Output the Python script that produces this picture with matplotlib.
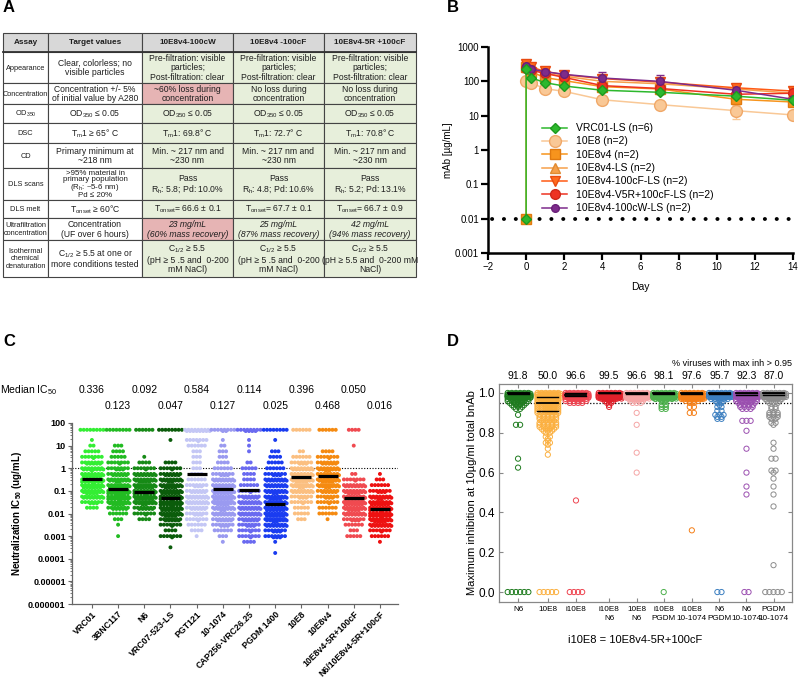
import numpy as np
import matplotlib
matplotlib.use('Agg')
import matplotlib.pyplot as plt
from matplotlib.patches import Rectangle
from matplotlib.ticker import NullLocator, LogLocator, NullFormatter
from matplotlib.transforms import blended_transform_factory

plt.rcParams['font.family'] = ['Liberation Sans', 'DejaVu Sans']
plt.rcParams['mathtext.fontset'] = 'custom'
plt.rcParams['mathtext.rm'] = 'Liberation Sans'
plt.rcParams['mathtext.it'] = 'Liberation Sans:italic'
plt.rcParams['mathtext.bf'] = 'Liberation Sans:bold'
plt.rcParams['mathtext.default'] = 'regular'

# ---------------- DATA ----------------
# Panel A table
table_header = ['Assay', 'Target values', '10E8v4-100cW', '10E8v4 -100cF', '10E8v4-5R +100cF']
prefilt = 'Pre-filtration: visible\nparticles;\nPost-filtration: clear'
noloss = 'No loss during\nconcentration'
od = 'OD$_{350}$ ≤ 0.05'
cdmin = 'Min. ~ 217 nm and\n~230 nm'
table_rows = [
    ['Appearance', 'Clear, colorless; no\nvisible particles', prefilt, prefilt, prefilt],
    ['Concentration', 'Concentration +/- 5%\nof initial value by A280', '~60% loss during\nconcentration', noloss, noloss],
    ['OD$_{350}$', 'OD$_{350}$ ≤ 0.05', od, od, od],
    ['DSC', 'T$_m$1 ≥ 65° C', 'T$_m$1: 69.8° C', 'T$_m$1: 72.7° C', 'T$_m$1: 70.8° C'],
    ['CD', 'Primary minimum at\n~218 nm', cdmin, cdmin, cdmin],
    ['DLS scans', '>95% material in\nprimary population\n(R$_h$: ~5-6 nm)\nPd ≤ 20%',
     'Pass\nR$_h$: 5.8; Pd: 10.0%', 'Pass\nR$_h$: 4.8; Pd: 10.6%', 'Pass\nR$_h$: 5.2; Pd: 13.1%'],
    ['DLS melt', 'T$_{onset}$ ≥ 60°C', 'T$_{onset}$= 66.6 ± 0.1', 'T$_{onset}$= 67.7 ± 0.1', 'T$_{onset}$= 66.7 ± 0.9'],
    ['Ultrafiltration\nconcentration', 'Concentration\n(UF over 6 hours)', '23 mg/mL\n(60% mass recovery)',
     '25 mg/mL\n(87% mass recovery)', '42 mg/mL\n(94% mass recovery)'],
    ['Isothermal\nchemical\ndenaturation', 'C$_{1/2}$ ≥ 5.5 at one or\nmore conditions tested',
     'C$_{1/2}$ ≥ 5.5\n(pH ≥ 5 .5 and  0-200\nmM NaCl)', 'C$_{1/2}$ ≥ 5.5\n(pH ≥ 5 .5 and  0-200\nmM NaCl)',
     'C$_{1/2}$ ≥ 5.5\n(pH ≥ 5.5 and  0-200 mM\nNaCl)'],
]
red_cells = [(1, 2), (7, 2)]
italic_row = 7

# Panel B
pk_names = ['VRC01-LS (n=6)', '10E8 (n=2)', '10E8v4 (n=2)', '10E8v4-LS (n=2)', '10E8v4-100cF-LS (n=2)',
            '10E8v4-V5R+100cF-LS (n=2)', '10E8v4-100cW-LS (n=2)']
pk_days = [0, 0.25, 1, 2, 4, 7, 11, 14]
pk_vrc01 = [230, 128, 91, 73, 55, 48, 37, 28]
pk_10e8 = [100, 90, 61, 51, 29, 21, 14, 10.5]
pk_10e8v4 = [260, 190, 128, 105, 70, 60, 30, 25]
pk_v4ls = [300, 230, 170, 140, 100, 85, 60, 45]
pk_100cf = [330, 260, 195, 155, 120, 95, 65, 52]
pk_v5r = [250, 210, 170, 130, 75, 62, 42, 45]
pk_100cw = [280, 230, 190, 160, 125, 100, 55, 30]
pk_err_vrc01 = [40, 15, 10, 8, 6, 5, 5, 4]
pk_err_10e8 = [10, 8, 6, 5, 4, 3, 6, 2]
pk_err_10e8v4 = [60, 40, 20, 15, 10, 8, 6, 4]
pk_err_v4ls = [70, 50, 30, 20, 20, 15, 10, 8]
pk_err_100cf = [60, 50, 30, 25, 25, 20, 12, 8]
pk_err_v5r = [50, 40, 30, 25, 15, 10, 8, 8]
pk_err_100cw = [60, 40, 30, 40, 65, 55, 12, 6]
pk_baseline_day = 0
pk_baseline = 0.01

# Panel C
c_names = ['VRC01', '3BNC117', 'N6', 'VRC07-523-LS', 'PGT121', '10-1074', 'CAP256-VRC26.25',
           'PGDM 1400', '10E8', '10E8v4', '10E8v4-5R+100cF', 'N6/10E8v4-5R+100cF']
c_medians = [0.336, 0.123, 0.092, 0.047, 0.584, 0.127, 0.114, 0.025, 0.396, 0.468, 0.050, 0.016]
c_levels = [50, 17.8, 10, 5.6, 3.2, 1.8, 1.0, 0.56, 0.32, 0.18, 0.1, 0.056, 0.032, 0.018,
            0.01, 0.0056, 0.0032, 0.0018, 0.001, 0.00056, 0.00032, 0.00018]
c_counts = [
    [8, 1, 2, 5, 8, 12, 15, 20, 22, 20, 18, 14, 10, 4, 0, 0, 0, 0, 0, 0, 0, 0],
    [8, 0, 3, 4, 5, 8, 10, 12, 16, 20, 24, 22, 18, 12, 6, 3, 1, 0, 1, 0, 0, 0],
    [6, 0, 0, 0, 1, 4, 8, 14, 18, 20, 22, 20, 16, 12, 8, 4, 0, 0, 0, 0, 0, 0],
    [8, 1, 0, 0, 0, 4, 8, 12, 16, 18, 20, 22, 22, 20, 18, 12, 8, 4, 8, 0, 1, 0],
    [16, 8, 6, 3, 3, 3, 3, 4, 6, 10, 12, 14, 14, 12, 10, 8, 6, 4, 1, 0, 0, 0],
    [10, 1, 2, 3, 3, 4, 6, 10, 14, 18, 20, 20, 18, 16, 14, 12, 10, 6, 3, 1, 0, 0],
    [12, 1, 1, 1, 0, 2, 5, 4, 4, 6, 8, 12, 14, 14, 14, 12, 10, 8, 8, 4, 0, 0],
    [8, 1, 0, 3, 4, 5, 6, 10, 14, 14, 16, 18, 20, 20, 20, 16, 14, 10, 10, 1, 0, 1],
    [6, 0, 0, 2, 6, 10, 14, 16, 18, 16, 14, 10, 8, 5, 5, 3, 0, 0, 0, 0, 0, 0],
    [6, 0, 0, 4, 8, 12, 16, 18, 18, 16, 12, 10, 8, 6, 6, 1, 0, 0, 0, 0, 0, 0],
    [4, 0, 1, 0, 0, 0, 0, 2, 8, 14, 18, 20, 20, 18, 14, 10, 6, 3, 5, 0, 0, 0],
    [0, 0, 0, 0, 0, 0, 0, 1, 3, 6, 10, 16, 20, 22, 22, 18, 14, 8, 6, 1, 0, 0],
]
c_colors = ['#33ee33', '#22bb22', '#168a16', '#0b5c0b', '#c4c7f5', '#9a9af0', '#6a6af0',
            '#1a3cf0', '#fbbf80', '#f58a10', '#f04a50', '#ee1111']
c_ticks = [100, 10, 1, 0.1, 0.01, 0.001, 0.0001, 0.00001, 0.000001]
c_ticklabels = ['100', '10', '1', '0.1', '0.01', '0.001', '0.0001', '0.00001', '0.000001']

# Panel D
d_names = ['N6', '10E8', 'i10E8', 'i10E8\nN6', '10E8\nN6', 'i10E8\nPGDM', 'i10E8\n10-1074',
           'N6\nPGDM', 'N6\n10-1074', 'PGDM\n10-1074']
d_pct = [91.8, 50.0, 96.6, 99.5, 96.6, 98.1, 97.6, 95.7, 92.3, 87.0]
d_levels = [1.0, 0.99, 0.98, 0.97, 0.96, 0.95, 0.94, 0.93, 0.92, 0.91, 0.90,
            0.89, 0.88, 0.87, 0.86, 0.85, 0.84, 0.83, 0.82, 0.81, 0.80]
d_counts = [
    [40, 20, 12, 8, 6, 5, 4, 3, 2, 0, 0, 1, 0, 0, 0, 0, 2, 0, 0, 0, 0],
    [20, 12, 12, 10, 10, 10, 8, 8, 8, 8, 6, 5, 5, 5, 4, 5, 5, 5, 4, 3, 2],
    [40, 20, 15, 8, 6, 4, 0, 0, 0, 0, 0, 0, 0, 0, 0, 0, 0, 0, 0, 0, 0],
    [50, 15, 6, 4, 3, 2, 1, 1, 0, 0, 0, 0, 0, 0, 0, 0, 0, 0, 0, 0, 0],
    [50, 10, 6, 4, 4, 3, 0, 0, 0, 0, 1, 0, 0, 0, 0, 0, 1, 0, 0, 0, 0],
    [50, 12, 10, 5, 2, 0, 2, 2, 2, 0, 0, 0, 0, 0, 0, 0, 0, 0, 0, 0, 0],
    [50, 15, 10, 6, 4, 2, 0, 2, 0, 0, 2, 0, 0, 0, 0, 0, 0, 0, 0, 0, 0],
    [40, 12, 8, 5, 3, 2, 1, 2, 0, 2, 0, 3, 2, 2, 0, 0, 0, 0, 0, 0, 0],
    [40, 12, 10, 8, 6, 5, 4, 4, 3, 0, 0, 0, 0, 0, 3, 0, 0, 0, 0, 0, 0],
    [40, 10, 8, 5, 4, 3, 0, 2, 2, 0, 3, 3, 3, 2, 0, 2, 1, 0, 0, 0, 0],
]
d_outliers = [
    [0.67, 0.625],
    [0.78, 0.78, 0.77, 0.76, 0.75, 0.75, 0.74, 0.72, 0.69],
    [0.46],
    [],
    [0.70, 0.60],
    [],
    [0.31],
    [],
    [0.81, 0.72, 0.60, 0.53, 0.49],
    [0.75, 0.72, 0.67, 0.67, 0.61, 0.61, 0.60, 0.57, 0.53, 0.49, 0.43, 0.135],
]
d_zeros = [6, 5, 4, 0, 0, 1, 0, 2, 2, 5]
d_median = [1.0, 0.95, 0.99, 1.0, 1.0, 1.0, 1.0, 1.0, 1.0, 1.0]
d_q1 = [0.995, 0.91, 0.985, 1.0, 0.995, 0.995, 0.995, 0.995, 0.99, 0.99]
d_q3 = [1.0, 0.98, 1.0, 1.0, 1.0, 1.0, 1.0, 1.0, 1.0, 1.0]
d_colors = ['#1e7b1e', '#fbb040', '#ee4450', '#e0202a', '#f5a5a5', '#4cb04c', '#f57f17',
            '#3c7fc0', '#9b4fb0', '#8c8c8c']

# ---------------- FIGURE ----------------
W, H = 800, 679
fig = plt.figure(figsize=(8, 6.79), dpi=100)


def rect(l, t, r, b):
    return [l / W, 1 - b / H, (r - l) / W, (b - t) / H]


def fig_y(y):
    return 1 - y / H


def fig_x(x):
    return x / W


# Panel labels
for lab, x, y in [('A', 3, 8), ('B', 447, 8), ('C', 3, 342), ('D', 447, 342)]:
    fig.text(fig_x(x), fig_y(y), lab, fontsize=12, fontweight='bold', ha='left', va='center')

# ---------- Panel A : table ----------
axA = fig.add_axes(rect(0, 0, 420, 300))
axA.set_xlim(0, 420)
axA.set_ylim(300, 0)
axA.axis('off')
col_edges = [3, 48, 142, 233, 324, 416]
row_edges = [33, 52, 83, 104, 123, 143, 168, 200, 218, 240, 277]
all_rows = [table_header] + table_rows
for ri, row in enumerate(all_rows):
    for ci, txt in enumerate(row):
        x0, x1 = col_edges[ci], col_edges[ci + 1]
        y0, y1 = row_edges[ri], row_edges[ri + 1]
        if ri == 0:
            fc = '#d8d8d8'
        elif ci < 2:
            fc = 'white'
        elif (ri - 1, ci) in red_cells:
            fc = '#e6b4b4'
        else:
            fc = '#e7efdb'
        axA.add_patch(Rectangle((x0, y0), x1 - x0, y1 - y0, facecolor=fc, edgecolor='#444444', lw=0.8))
        style = 'italic' if (ri - 1 == italic_row and ci >= 2) else 'normal'
        weight = 'bold' if ri == 0 else 'normal'
        nl = txt.count('\n') + 1
        if ri == 0:
            fs = 5.9
        elif ci == 0:
            fs = 5.3
        elif nl >= 4:
            fs = 5.7
        else:
            fs = 6.2
        ls = 0.82 if nl >= 4 else 1.06
        axA.text((x0 + x1) / 2, (y0 + y1) / 2 + 0.5, txt, ha='center', va='center',
                 fontsize=fs, fontstyle=style, fontweight=weight, linespacing=ls, color='#1e1e1e')
axA.plot([3, 416], [52, 52], color='#333333', lw=1.3)

# ---------- Panel B : PK ----------
axB = fig.add_axes(rect(488, 47, 793, 253))
axB.set_yscale('log')
axB.set_ylim(0.001, 1000)
axB.set_xlim(-2, 14)
pk_vals = [pk_vrc01, pk_10e8, pk_10e8v4, pk_v4ls, pk_100cf, pk_v5r, pk_100cw]
pk_errs = [pk_err_vrc01, pk_err_10e8, pk_err_10e8v4, pk_err_v4ls, pk_err_100cf, pk_err_v5r, pk_err_100cw]
pk_style = [
    dict(color='#2db82d', marker='D', ms=5, mfc='#2db82d', mec='#1e9a1e'),
    dict(color='#f9c896', marker='o', ms=8.5, mfc='#f9c896', mec='#f0a868'),
    dict(color='#f7941d', marker='s', ms=7, mfc='#f7941d', mec='#e07a10'),
    dict(color='#f6a04a', marker='^', ms=7, mfc='#f6a04a', mec='#e08a30'),
    dict(color='#ff5a14', marker='v', ms=7, mfc='#ff6a1e', mec='#e84a10'),
    dict(color='#ee3322', marker='o', ms=7, mfc='#ee3322', mec='#d02818'),
    dict(color='#7d2b8b', marker='o', ms=5.5, mfc='#7d2b8b', mec='#6a1f78'),
]
axB.plot([-1.8, 14], [pk_baseline, pk_baseline], color='black', lw=2.8,
         linestyle=(0, (0.05, 3.0)), dash_capstyle='round', zorder=1)
order = [1, 2, 3, 4, 5, 6, 0]
handles = [None] * 7
for i in order:
    st = pk_style[i]
    v = pk_vals[i]
    e = pk_errs[i]
    lo = [min(ee, vv * 0.5) for ee, vv in zip(e, v)]
    axB.errorbar(pk_days, v, yerr=[lo, e], fmt='none', ecolor=st['color'], elinewidth=1,
                 capsize=3, capthick=1, zorder=2 + i * 0.1)
    if i in (0, 2):
        xs = [pk_baseline_day] + pk_days
        ys = [pk_baseline] + v
    else:
        xs, ys = pk_days, v
    ln, = axB.plot(xs, ys, lw=1.1, label=pk_names[i], zorder=3 + i * 0.1 + (2 if i == 0 else 0), **st)
    handles[i] = ln
axB.legend(handles=handles, loc='upper left', bbox_to_anchor=(fig_x(538), fig_y(119)),
           bbox_transform=fig.transFigure, frameon=False, fontsize=7.5, handlelength=2.4,
           handletextpad=0.8, labelspacing=0.32, borderaxespad=0)
for s in ['top', 'right']:
    axB.spines[s].set_visible(False)
for s in ['left', 'bottom']:
    axB.spines[s].set_linewidth(1.8)
axB.set_xticks(np.arange(-2, 15, 2))
axB.set_yticks([0.001, 0.01, 0.1, 1, 10, 100, 1000])
axB.set_yticklabels(['0.001', '0.01', '0.1', '1', '10', '100', '1000'])
axB.yaxis.set_minor_locator(NullLocator())
axB.tick_params(axis='both', direction='out', length=5, width=1.6, labelsize=7, pad=1.5)
axB.set_xlabel('Day', fontsize=7.5, labelpad=7)
axB.set_ylabel('mAb [µg/mL]', fontsize=7, labelpad=1)

# ---------- Panel C : IC50 scatter ----------
axC = fig.add_axes(rect(72, 423, 398, 604))
axC.set_yscale('log')
axC.set_ylim(1e-6, 100)
axC.set_xlim(-0.76, 11.69)
step_c = 0.125
for ci in range(len(c_names)):
    xs, ys = [], []
    for lv, n in zip(c_levels, c_counts[ci]):
        r = 0
        rem = n
        maxrow = 8 if lv >= 50 else 7
        while rem > 0:
            k = min(maxrow, rem)
            offs = (np.arange(k) - (k - 1) / 2) * step_c + (r % 2) * step_c / 2
            xs.extend(ci + offs)
            ys.extend([lv * 10 ** (-0.055 * r)] * k)
            rem -= k
            r += 1
    axC.scatter(xs, ys, s=8, color=c_colors[ci], edgecolors='none', zorder=2, clip_on=False)
    axC.plot([ci - 0.38, ci + 0.38], [c_medians[ci]] * 2, color='black', lw=2.3, zorder=3,
             solid_capstyle='butt')
axC.axhline(1, color='black', lw=0.8, linestyle=(0, (1, 1.5)), zorder=1)
for s in ['top', 'right']:
    axC.spines[s].set_visible(False)
for s in ['left', 'bottom']:
    axC.spines[s].set_color('#666666')
    axC.spines[s].set_linewidth(0.9)
axC.set_yticks(c_ticks)
axC.set_yticklabels(c_ticklabels, fontweight='bold')
axC.yaxis.set_minor_locator(LogLocator(base=10, subs=np.arange(2, 10) * 1.0, numticks=20))
axC.yaxis.set_minor_formatter(NullFormatter())
axC.tick_params(axis='y', which='major', labelsize=6.5, length=3, color='#666666', pad=1.5)
axC.tick_params(axis='y', which='minor', length=1.5, color='#666666')
axC.set_xticks(range(len(c_names)))
axC.set_xticklabels(c_names, rotation=45, ha='right', rotation_mode='anchor', fontsize=6.3,
                    fontweight='bold')
axC.tick_params(axis='x', length=3, color='#666666', pad=1)
axC.set_ylabel('Neutralization IC$_{50}$ (ug/mL)', fontsize=7, fontweight='bold', labelpad=3)
trC = blended_transform_factory(axC.transData, fig.transFigure)
fig.text(fig_x(0), fig_y(390), 'Median IC$_{50}$', fontsize=7.5, ha='left', va='center')
for ci, m in enumerate(c_medians):
    y = 390 if ci % 2 == 0 else 406
    axC.text(ci, fig_y(y), f'{m:.3f}', transform=trC, fontsize=7.5, ha='center', va='center')

# ---------- Panel D : max inhibition ----------
axD = fig.add_axes(rect(499, 384, 792, 602))
axD.set_ylim(-0.05, 1.045)
d_pos = [0, 1.08, 2.1, 3.3, 4.3, 5.28, 6.3, 7.3, 8.28, 9.26]
axD.set_xlim(-0.69, 9.93)
step_d = 0.15
trD = blended_transform_factory(axD.transData, fig.transFigure)
for di in range(len(d_names)):
    vals = []
    for lv, n in zip(d_levels, d_counts[di]):
        vals.extend([lv] * n)
    vals.extend(d_outliers[di])
    vals.extend([0.0] * d_zeros[di])
    uv, cnt = np.unique(np.round(vals, 4), return_counts=True)
    xs, ys = [], []
    for v, n in zip(uv, cnt):
        r = 0
        rem = n
        while rem > 0:
            k = min(6, rem)
            offs = (np.arange(k) - (k - 1) / 2) * step_d + (r % 2) * step_d / 2
            xs.extend(d_pos[di] + offs)
            ys.extend([v - 0.004 * r] * k)
            rem -= k
            r += 1
    axD.scatter(xs, ys, s=14, facecolors='none', edgecolors=d_colors[di], linewidths=0.7, zorder=2)
    for q, lw in [(d_q1[di], 1.0), (d_median[di], 1.3), (d_q3[di], 1.0)]:
        axD.plot([d_pos[di] - 0.38, d_pos[di] + 0.38], [q, q], color='black', lw=lw, zorder=3)
    axD.text(d_pos[di], fig_y(376), f'{d_pct[di]:.1f}', transform=trD,
             fontsize=7.5, ha='center', va='center')
axD.axhline(0.95, color='black', lw=0.9, linestyle=(0, (1, 1.5)), zorder=1)
for s in axD.spines.values():
    s.set_color('#888888')
    s.set_linewidth(0.9)
axD.set_yticks([0.0, 0.2, 0.4, 0.6, 0.8, 1.0])
axD.set_yticklabels(['0.0', '0.2', '0.4', '0.6', '0.8', '1.0'])
axD.set_xticks(d_pos)
axD.set_xticklabels(d_names, fontsize=5.9, linespacing=1.3)
axD.tick_params(axis='y', labelsize=8.5, direction='in', length=3, right=True, color='#888888', pad=3)
axD.tick_params(axis='x', direction='in', length=3, top=True, color='#888888', pad=3)
axD.set_ylabel('Maximum inhibition at 10µg/ml total bnAb', fontsize=8, labelpad=1)
fig.text(fig_x(792), fig_y(363), '% viruses with max inh > 0.95', fontsize=6.5, ha='right', va='center')
fig.text(fig_x(635), fig_y(640), 'i10E8 = 10E8v4-5R+100cF', fontsize=8, ha='center', va='center')

fig.savefig('out.png', dpi=100)
